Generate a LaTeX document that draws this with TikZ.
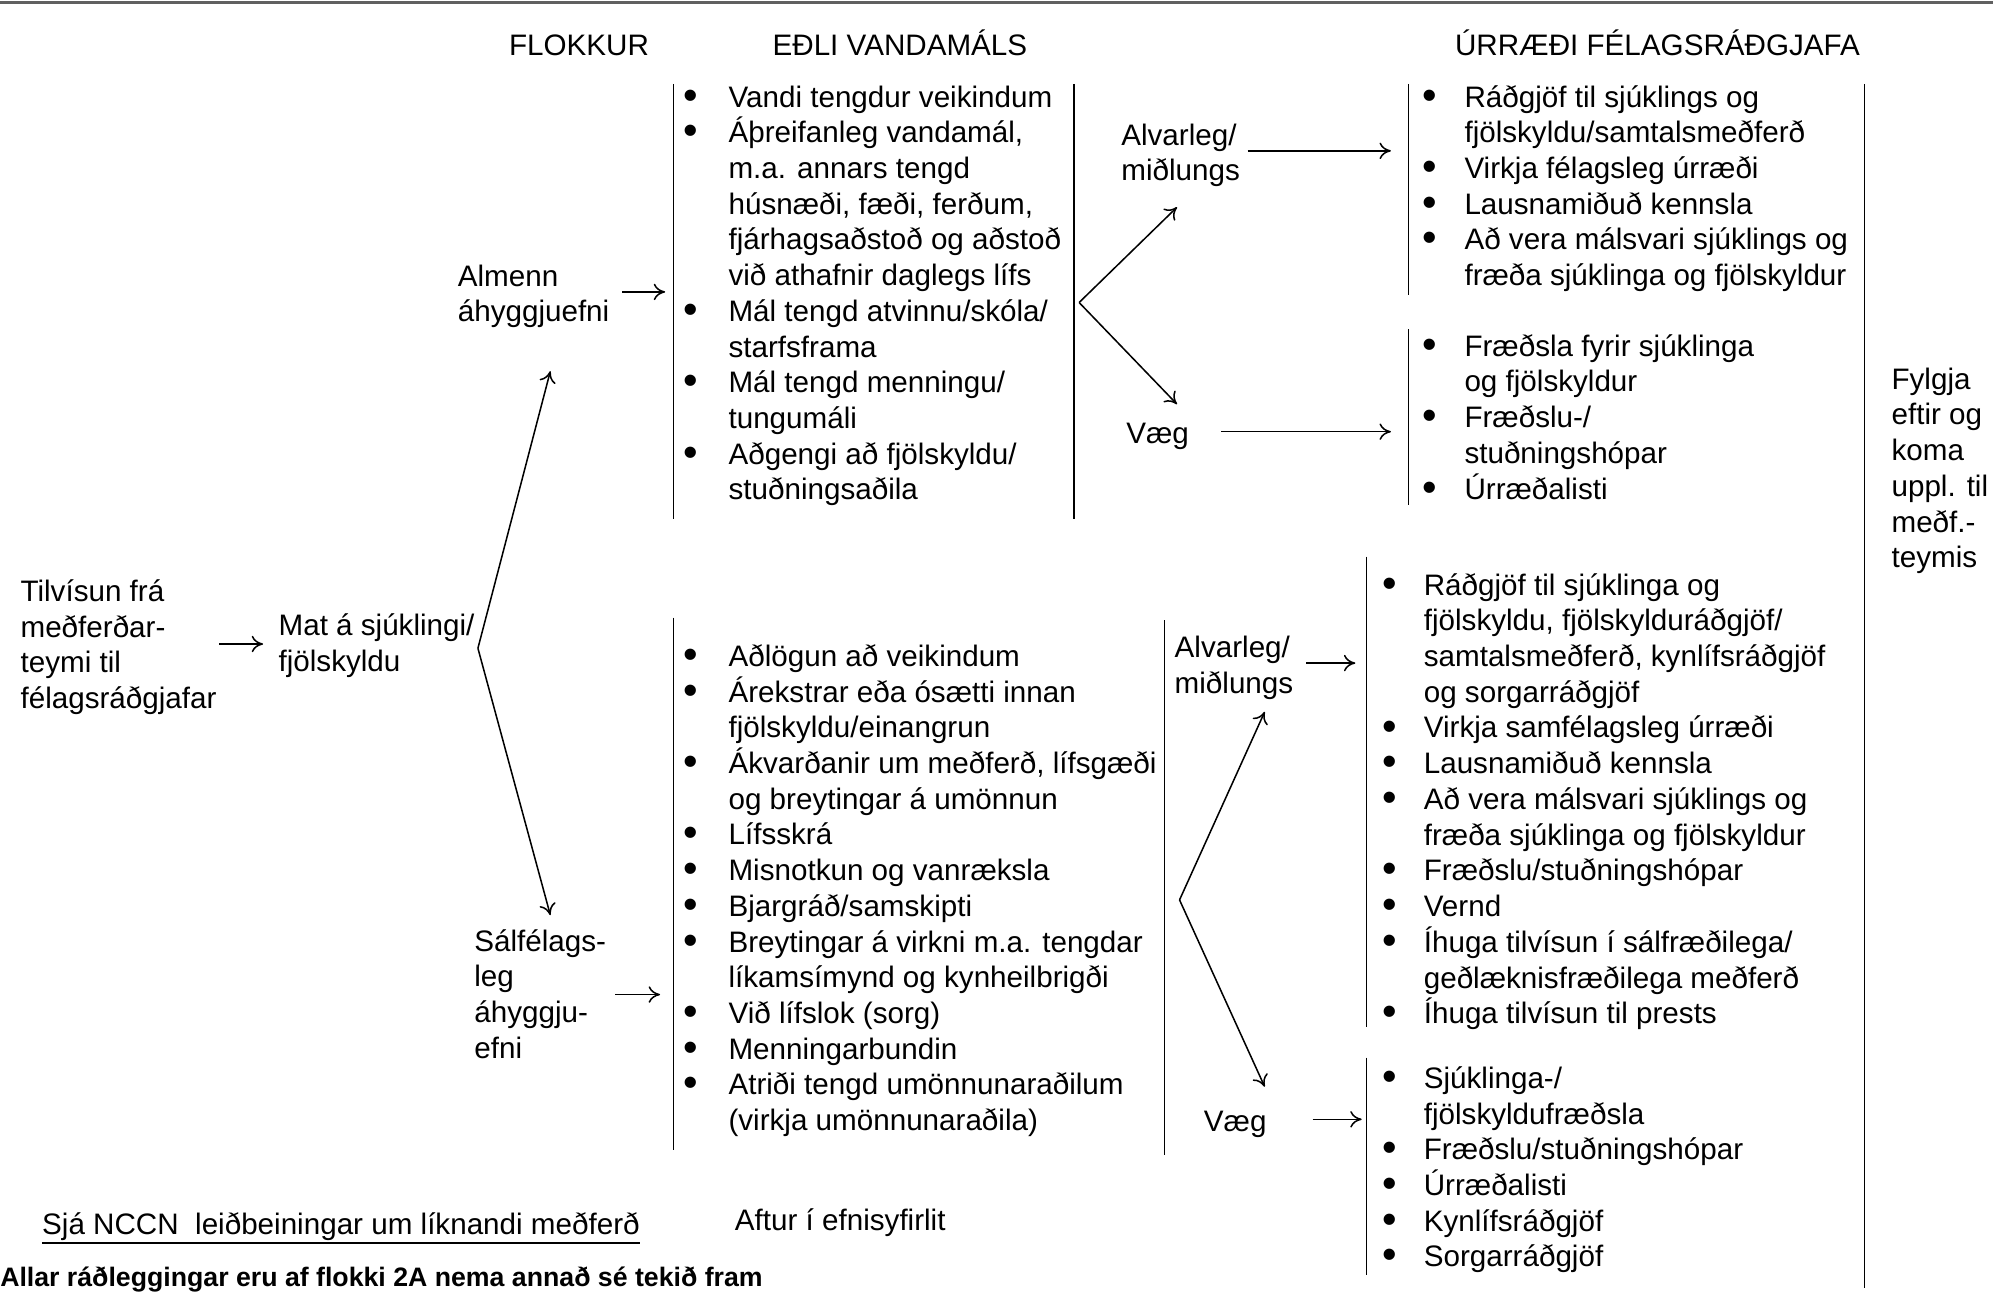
\documentclass[tikz,border=0pt]{standalone}
\usepackage{fontspec}
\setmainfont{Liberation Sans}
\usetikzlibrary{arrows.meta}
% first-line strut: fixes the distance from a node's top to its first baseline
\newcommand{\tp}{\rule{0pt}{24pt}}
% bullet and continuation indent for list lines
\newcommand{\dotmark}{\raisebox{-0.07em}{\scalebox{1.4}{\textbullet}}}
\newcommand{\bl}{\makebox[35.7pt][l]{\dotmark}}
\newcommand{\cl}{\makebox[35.7pt]{}}
% narrower variants for the right-hand lists
\newcommand{\bn}{\makebox[32.7pt][l]{\dotmark}}
\newcommand{\cn}{\makebox[32.7pt]{}}
\begin{document}
\begin{tikzpicture}[x=1pt,y=-1pt,
  txt/.style={anchor=north west, inner sep=0pt, align=left,
              font=\fontsize{23.3}{28.1}\selectfont},
  hdr/.style={anchor=base, inner sep=0pt, font=\fontsize{23.3}{28.1}\selectfont},
  arr/.style={line width=1.2pt, -{To[length=9pt,width=13pt]}},
  bar/.style={line width=1.2pt},
]
\useasboundingbox (0,0) rectangle (1568,1018);
\fill[white] (0,0) rectangle (1568,1018);

% rule along the top edge
\fill[gray!75!black] (0,0.8) rectangle (1568,3.3);

% column headings
\node[hdr] (hflokkur) at (455.5,44) {FLOKKUR};
\node[hdr] (heðli) at (708,44) {EÐLI VANDAMÁLS};
\node[hdr] (hurr) at (1304,44) {ÚRRÆÐI FÉLAGSRÁÐGJAFA};

% referral and assessment
\node[txt] (tilv) at (16,449) {\tp Tilvísun frá\\meðferðar-\\teymi til\\félagsráðgjafar};
\node[txt] (mat) at (219,476) {\tp Mat á sjúklingi/\\fjölskyldu};

% categories
\node[txt] (alm) at (360,201) {\tp Almenn\\áhyggjuefni};
\node[txt] (sal) at (373,724) {\tp Sálfélags-\\leg\\áhyggju-\\efni};

% nature of the problem: general concerns
\node[txt] (list1) at (537.3,60) {\tp\bl Vandi tengdur veikindum\\
\bl Áþreifanleg vandamál,\\
\cl m.a. annars tengd\\
\cl húsnæði, fæði, ferðum,\\
\cl fjárhagsaðstoð og aðstoð\\
\cl við athafnir daglegs lífs\\
\bl Mál tengd atvinnu/skóla/\\
\cl starfsframa\\
\bl Mál tengd menningu/\\
\cl tungumáli\\
\bl Aðgengi að fjölskyldu/\\
\cl stuðningsaðila};

% nature of the problem: psychosocial concerns
\node[txt] (list2) at (537.3,500) {\tp\bl Aðlögun að veikindum\\
\bl Árekstrar eða ósætti innan\\
\cl fjölskyldu/einangrun\\
\bl Ákvarðanir um meðferð, lífsgæði\\
\cl og breytingar á umönnun\\
\bl Lífsskrá\\
\bl Misnotkun og vanræksla\\
\bl Bjargráð/samskipti\\
\bl Breytingar á virkni m.a. tengdar\\
\cl líkamsímynd og kynheilbrigði\\
\bl Við lífslok (sorg)\\
\bl Menningarbundin\\
\bl Atriði tengd umönnunaraðilum\\
\cl (virkja umönnunaraðila)};

% severity levels
\node[txt] (alv1) at (882,90) {\tp Alvarleg/\\miðlungs};
\node[txt] (vaeg1) at (886,325) {\tp Væg};
\node[txt] (alv2) at (924,493) {\tp Alvarleg/\\miðlungs};
\node[txt] (vaeg2) at (947,866) {\tp Væg};

% social worker interventions
\node[txt] (listA) at (1119.3,60) {\tp\bn Ráðgjöf til sjúklings og\\
\cn fjölskyldu/samtalsmeðferð\\
\bn Virkja félagsleg úrræði\\
\bn Lausnamiðuð kennsla\\
\bn Að vera málsvari sjúklings og\\
\cn fræða sjúklinga og fjölskyldur};
\node[txt] (listB) at (1119.3,256) {\tp\bn Fræðsla fyrir sjúklinga\\
\cn og fjölskyldur\\
\bn Fræðslu-/\\
\cn stuðningshópar\\
\bn Úrræðalisti};
\node[txt] (listC) at (1087.3,444) {\tp\bn Ráðgjöf til sjúklinga og\\
\cn fjölskyldu, fjölskylduráðgjöf/\\
\cn samtalsmeðferð, kynlífsráðgjöf\\
\cn og sorgarráðgjöf\\
\bn Virkja samfélagsleg úrræði\\
\bn Lausnamiðuð kennsla\\
\bn Að vera málsvari sjúklings og\\
\cn fræða sjúklinga og fjölskyldur\\
\bn Fræðslu/stuðningshópar\\
\bn Vernd\\
\bn Íhuga tilvísun í sálfræðilega/\\
\cn geðlæknisfræðilega meðferð\\
\bn Íhuga tilvísun til prests};
\node[txt] (listD) at (1087.3,832) {\tp\bn Sjúklinga-/\\
\cn fjölskyldufræðsla\\
\bn Fræðslu/stuðningshópar\\
\bn Úrræðalisti\\
\bn Kynlífsráðgjöf\\
\bn Sorgarráðgjöf};

% follow-up
\node[txt] (fylg) at (1488,282) {\tp Fylgja\\eftir og\\koma\\uppl. til\\meðf.-\\teymis};

% footer
\node[txt] (sja) at (33,947) {\tp Sjá NCCN\ \ leiðbeiningar um líknandi meðferð};
\draw[line width=1.2pt] ([yshift=-1.5pt]sja.south west) -- ([yshift=-1.5pt]sja.south east);
\node[txt] (aftur) at (578,944) {\tp Aftur í efnisyfirlit};
\node[anchor=base west, inner sep=0pt, font=\fontsize{21}{25}\selectfont\bfseries] (allar) at (0,1012)
  {Allar ráðleggingar eru af flokki 2A nema annað sé tekið fram};

% column rules
\draw[bar] (530,66) -- (530,408);
\draw[bar] (845,66) -- (845,408);
\draw[bar] (530,486) -- (530,905);
\draw[bar] (916,488) -- (916,909);
\draw[bar] (1108,66) -- (1108,232);
\draw[bar] (1108,259) -- (1108,397);
\draw[bar] (1075,438) -- (1075,808);
\draw[bar] (1075,832) -- (1075,1003);
\draw[bar] (1467,66) -- (1467,1013);

% forks
\coordinate (f1) at (376,510);
\coordinate (f1u) at (433,292);
\coordinate (f1d) at (433,720);
\draw[arr] (f1) -- (f1u);
\draw[arr] (f1) -- (f1d);

\coordinate (f2) at (849,238);
\coordinate (f2u) at (926,163);
\coordinate (f2d) at (926,318);
\draw[arr] (f2) -- (f2u);
\draw[arr] (f2) -- (f2d);

\coordinate (f3) at (928,708);
\coordinate (f3u) at (995,560);
\coordinate (f3d) at (995,855);
\draw[arr] (f3) -- (f3u);
\draw[arr] (f3) -- (f3d);

% horizontal arrows
\draw[arr] ([xshift=2pt,yshift=-2pt]tilv.east |- mat.west) -- ([xshift=-12pt,yshift=-2pt]mat.west);
\draw[arr] ([xshift=10pt]alm.east) -- ([xshift=-14pt]alm.east -| list1.west);
\draw[arr] ([xshift=7pt,yshift=-4pt]sal.east) -- ([xshift=-18pt,yshift=-4pt]sal.east -| list2.west);
\draw[arr] ([xshift=6pt]alv1.east) -- ([xshift=-25pt]alv1.east -| listA.west);
\draw[arr] ([xshift=25pt]vaeg1.east) -- ([xshift=-25pt]vaeg1.east -| listB.west);
\draw[arr] ([xshift=10pt]alv2.east) -- ([xshift=-21pt]alv2.east -| listC.west);
\draw[arr] ([xshift=36pt]vaeg2.east) -- ([xshift=-16pt]vaeg2.east -| listD.west);
\end{tikzpicture}
\end{document}
